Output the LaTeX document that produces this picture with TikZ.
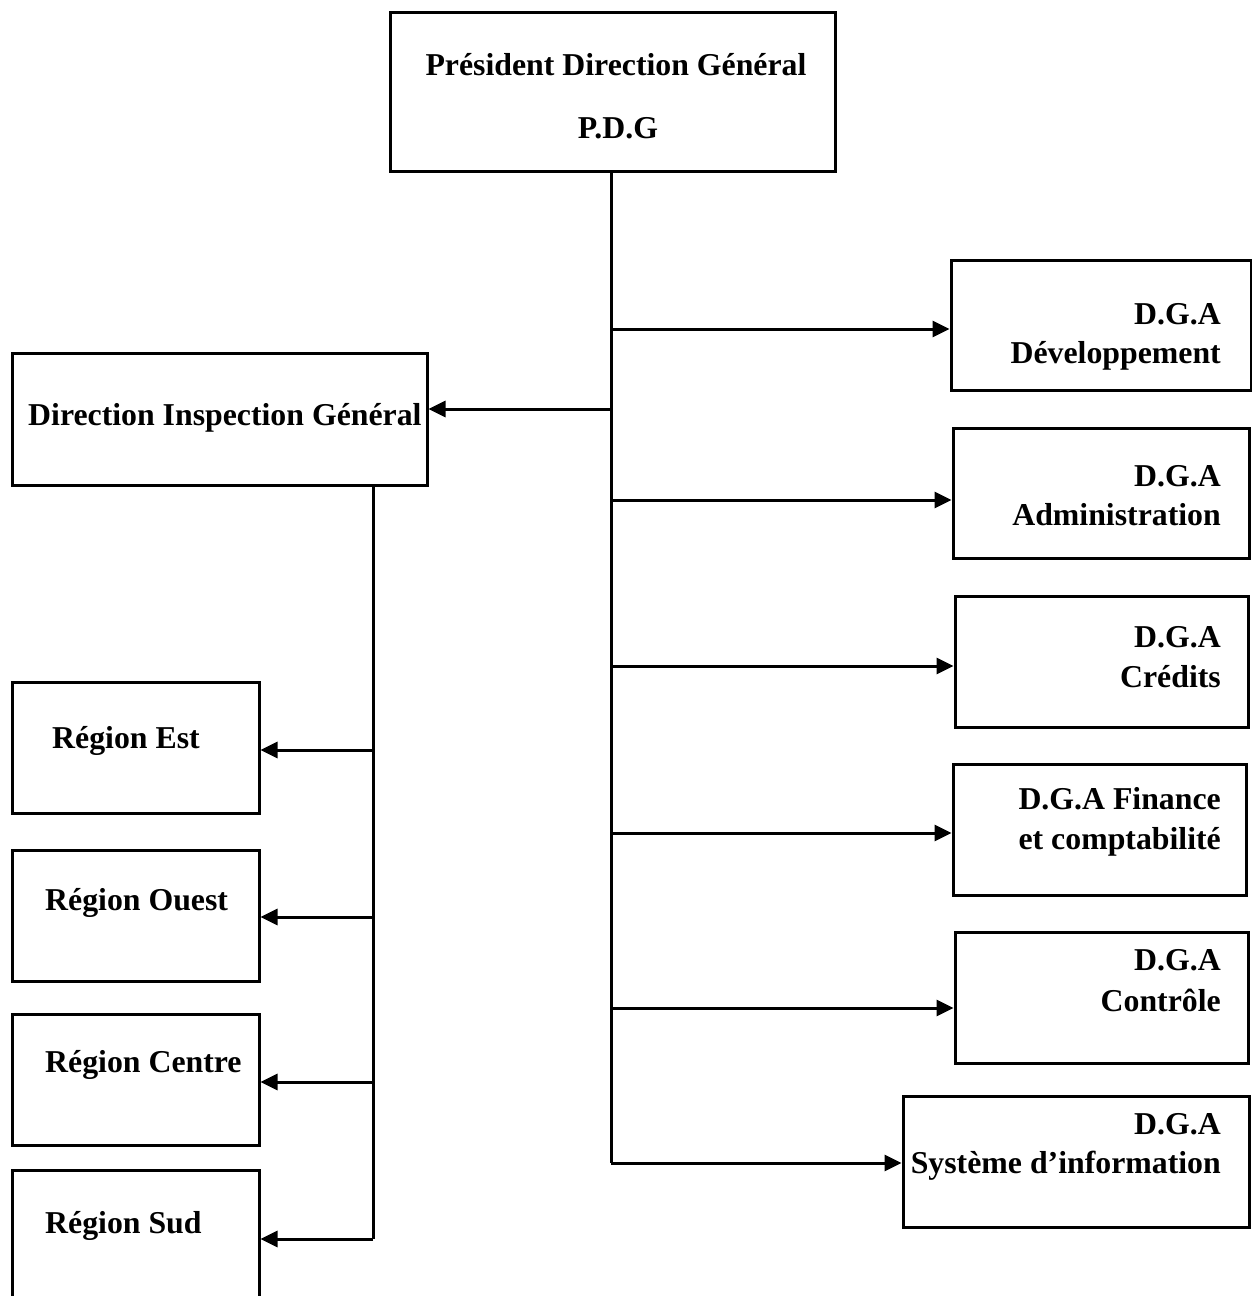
\documentclass[tikz,border=0pt]{standalone}
\usepackage{fontspec}
\setmainfont{Liberation Serif}
\usetikzlibrary{arrows.meta}
\tikzset{
  box/.style={draw, line width=3pt, rectangle, inner sep=0pt},
  lbl/.style={inner sep=0pt, font=\fontsize{31.8}{38}\selectfont\bfseries},
  link/.style={line width=3pt},
  arr/.style={line width=3pt, -{Triangle[length=17pt,width=16pt]}}
}
\begin{document}
\begin{tikzpicture}[x=1pt,y=-1pt]
\clip (0,0) rectangle (1252,1296);
\fill[white] (0,0) rectangle (1252,1296);
% boxes
\node[box, minimum width=445pt, minimum height=159pt] (pdg) at (612.5,91.5) {};
\node[box, minimum width=415pt, minimum height=132pt] (dig) at (219.5,419) {};
\node[box, minimum width=247pt, minimum height=131pt] (est) at (135.5,747.5) {};
\node[box, minimum width=247pt, minimum height=131pt] (ouest) at (135.5,915.5) {};
\node[box, minimum width=247pt, minimum height=131pt] (centre) at (135.5,1079.5) {};
\node[box, minimum width=247pt, minimum height=131pt] (sud) at (135.5,1235.5) {};
\node[box, minimum width=300pt, minimum height=130pt] (dev) at (1101,325) {};
\node[box, minimum width=296pt, minimum height=130pt] (adm) at (1101,493) {};
\node[box, minimum width=293pt, minimum height=131pt] (cred) at (1101.5,661.5) {};
\node[box, minimum width=293pt, minimum height=131pt] (fin) at (1099.5,829.5) {};
\node[box, minimum width=293pt, minimum height=131pt] (ctrl) at (1101.5,997.5) {};
\node[box, minimum width=346pt, minimum height=131pt] (sys) at (1076,1161.5) {};
% texts
\node[lbl, anchor=base] (pdgA) at (616,75) {Président Direction Général};
\node[lbl, anchor=base] (pdgB) at (618,138) {P.D.G};
\node[lbl, anchor=base west] (digA) at (28,425) {Direction Inspection Général};
\node[lbl, anchor=base west] (estA) at (52,748) {Région Est};
\node[lbl, anchor=base west] (ouestA) at (45,910) {Région Ouest};
\node[lbl, anchor=base west] (centreA) at (45,1072) {Région Centre};
\node[lbl, anchor=base west] (sudA) at (45,1233) {Région Sud};
\node[lbl, anchor=base east] (devA) at (1221,324) {D.G.A};
\node[lbl, anchor=base east] (devB) at (1221,363) {Développement};
\node[lbl, anchor=base east] (admA) at (1221,486) {D.G.A};
\node[lbl, anchor=base east] (admB) at (1221,525) {Administration};
\node[lbl, anchor=base east] (credA) at (1221,647) {D.G.A};
\node[lbl, anchor=base east] (credB) at (1221,687) {Crédits};
\node[lbl, anchor=base east] (finA) at (1221,809) {D.G.A Finance};
\node[lbl, anchor=base east] (finB) at (1221,849) {et comptabilité};
\node[lbl, anchor=base east] (ctrlA) at (1221,970) {D.G.A};
\node[lbl, anchor=base east] (ctrlB) at (1221,1011) {Contrôle};
\node[lbl, anchor=base east] (sysA) at (1221,1134) {D.G.A};
\node[lbl, anchor=base east] (sysB) at (1221,1173) {Système d’information};
% trunk coordinates
\coordinate (t1) at (611,329);
\coordinate (tdig) at (611,409);
\coordinate (t2) at (611,500);
\coordinate (t3) at (611,666);
\coordinate (t4) at (611,833);
\coordinate (t5) at (611,1008);
\coordinate (t6) at (611,1163);
\coordinate (l1) at (373,750);
\coordinate (l2) at (373,917);
\coordinate (l3) at (373,1082);
\coordinate (l4) at (373,1239);
% connectors
\draw[link] (pdg.south -| t6) -- (t6);
\draw[link] (dig.south -| l1) -- (l4);
\draw[arr] (t1) -- (t1 -| dev.west);
\draw[arr] (t2) -- (t2 -| adm.west);
\draw[arr] (t3) -- (t3 -| cred.west);
\draw[arr] (t4) -- (t4 -| fin.west);
\draw[arr] (t5) -- (t5 -| ctrl.west);
\draw[arr] (t6) -- (t6 -| sys.west);
\draw[arr] (tdig) -- (tdig -| dig.east);
\draw[arr] (l1) -- (l1 -| est.east);
\draw[arr] (l2) -- (l2 -| ouest.east);
\draw[arr] (l3) -- (l3 -| centre.east);
\draw[arr] (l4) -- (l4 -| sud.east);
\end{tikzpicture}
\end{document}
